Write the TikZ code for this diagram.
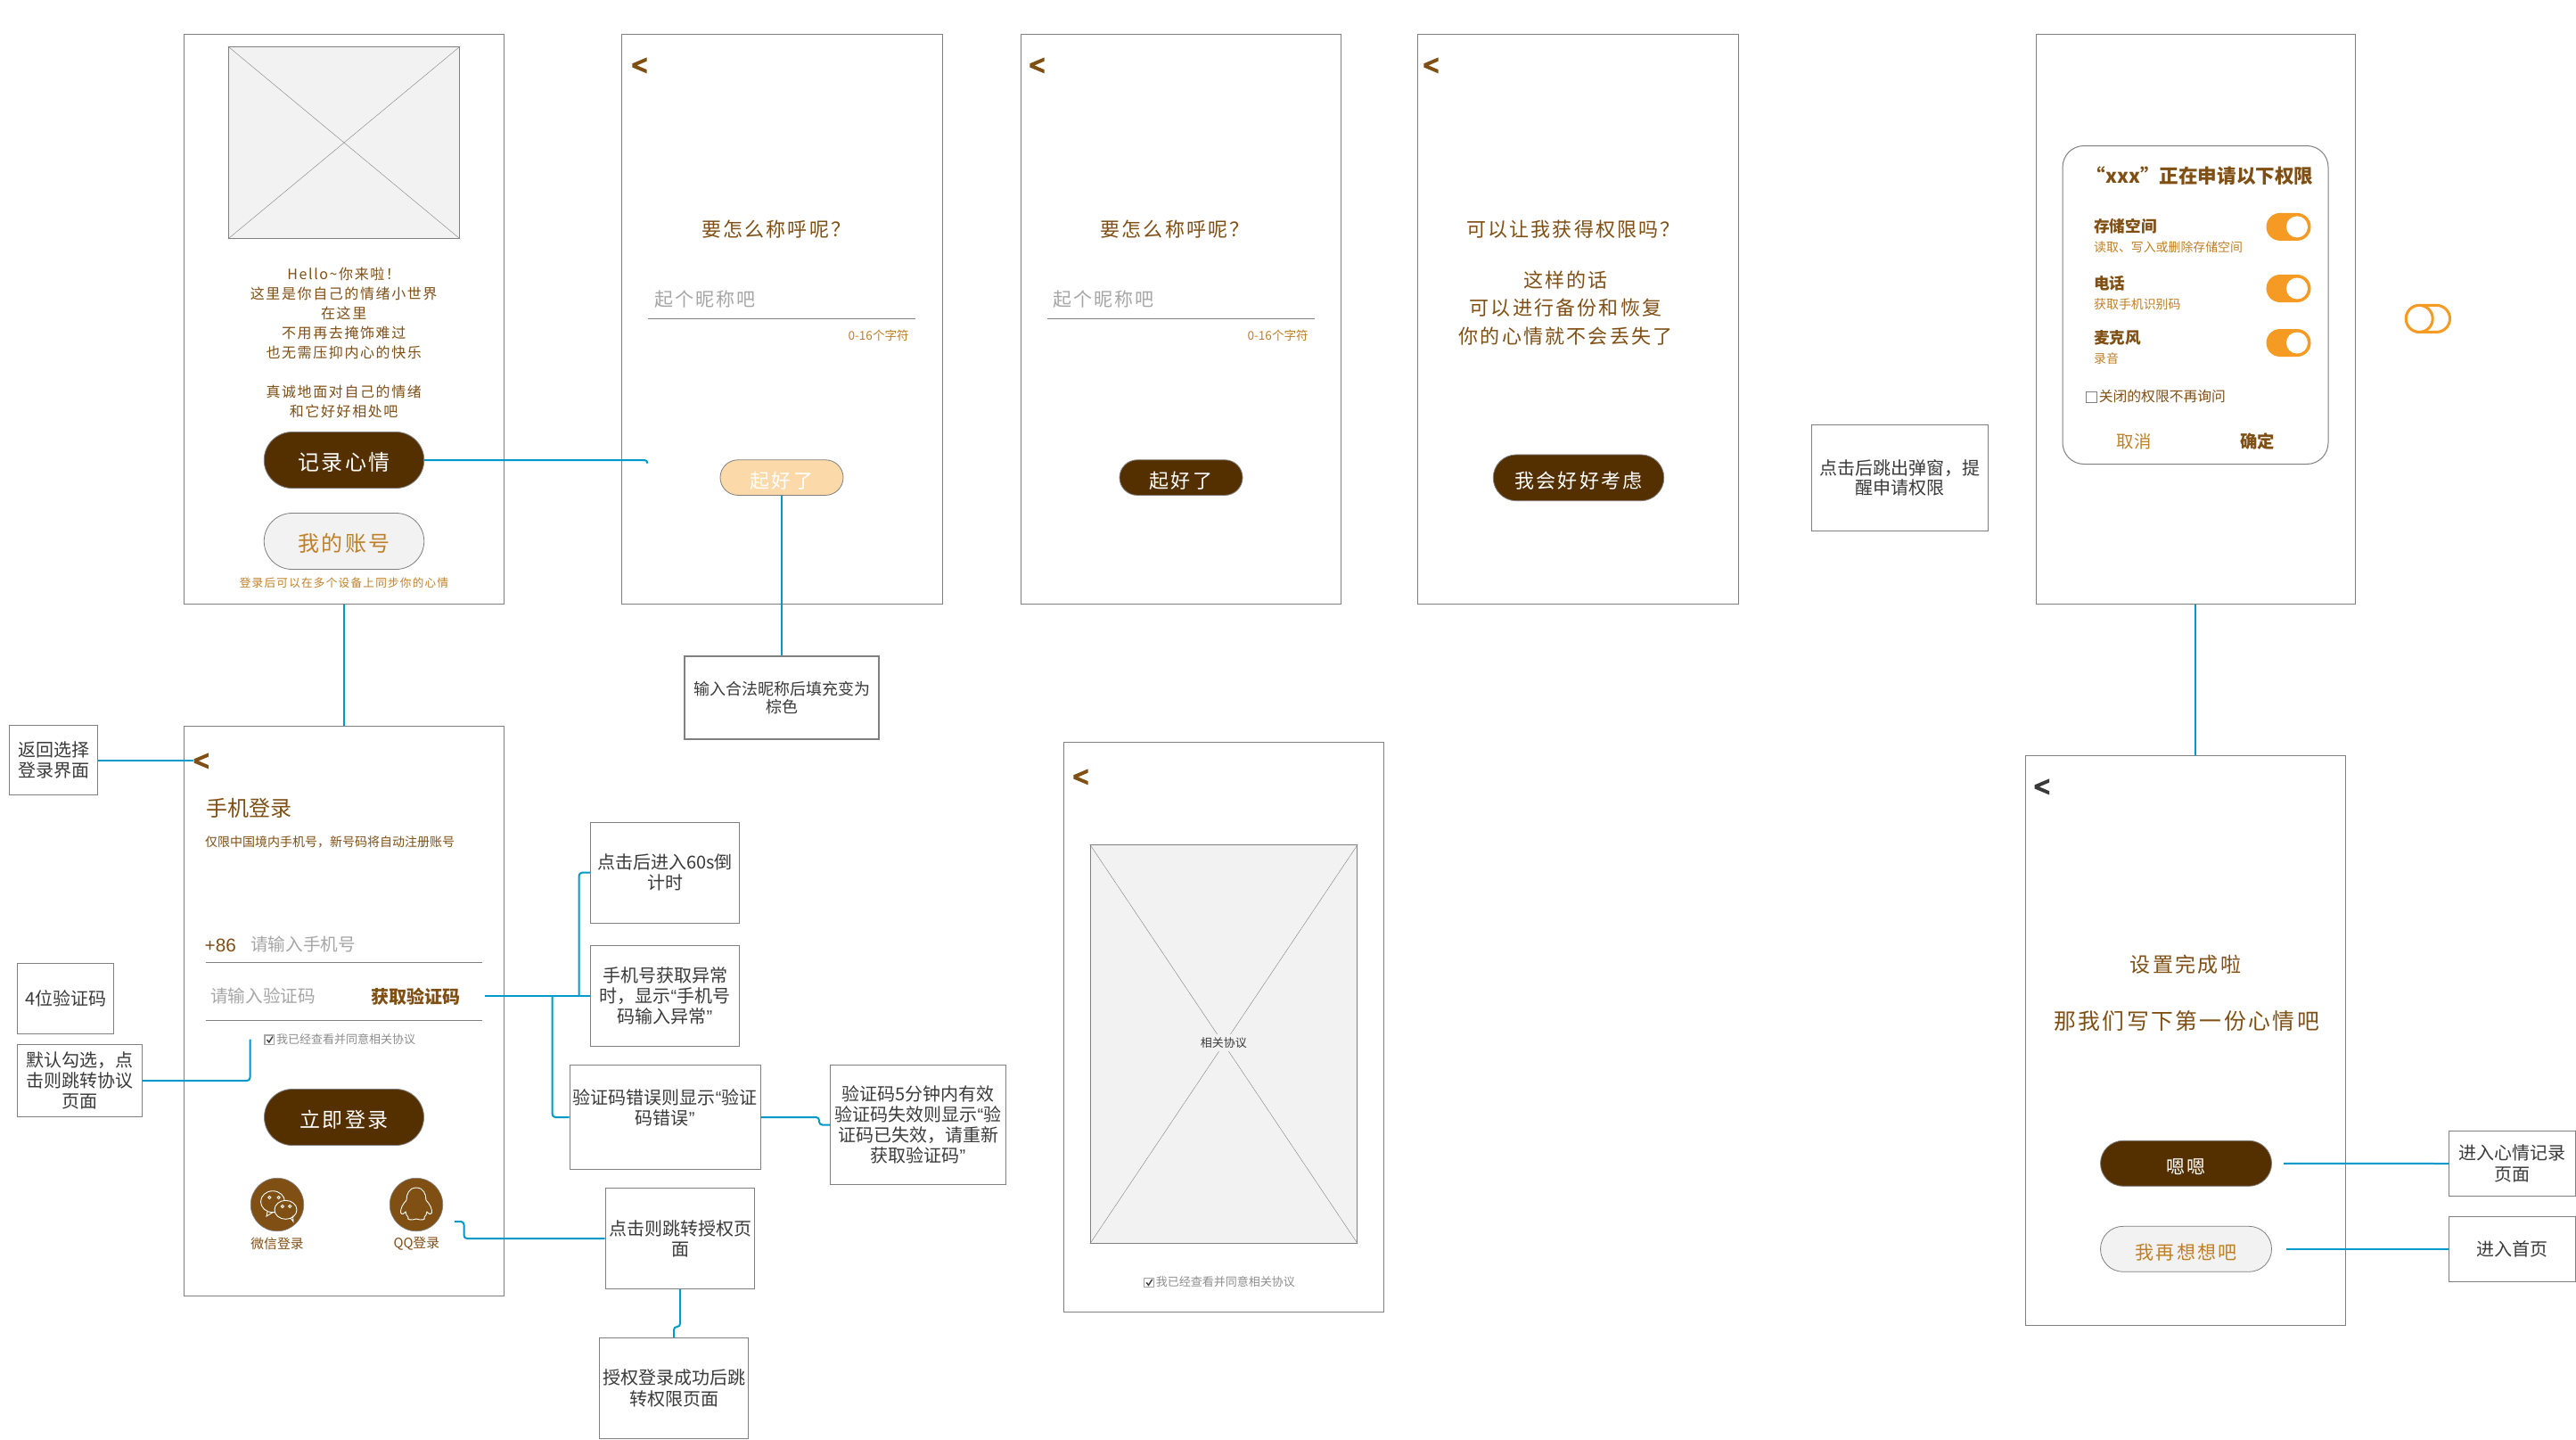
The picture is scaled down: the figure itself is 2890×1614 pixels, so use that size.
\documentclass[tikz,border=0pt]{standalone}
\usepackage{fontspec}
\usetikzlibrary{shapes.misc}
\setmainfont{Noto Sans CJK SC}
\newfontfamily\handfont[LetterSpace=10]{Noto Sans CJK SC}
\newfontfamily\latinfont{Liberation Sans}
\newfontfamily\chevfont[FakeBold=6]{Liberation Sans}
\newcommand{\fs}[2]{\fontsize{#1}{#2}\selectfont}
\newcommand{\qa}{{\latinfont “}}
\newcommand{\qb}{{\latinfont ”}}
\definecolor{bark}{HTML}{7F4F14}
\definecolor{cocoa}{HTML}{542F00}
\definecolor{amber}{HTML}{BF7F26}
\definecolor{peach}{HTML}{FCD9A9}
\definecolor{toggle}{HTML}{F59A23}
\definecolor{linegrey}{HTML}{7F7F7F}
\definecolor{hintgrey}{HTML}{A6A6A6}
\definecolor{paper}{HTML}{F2F2F2}
\definecolor{ink}{HTML}{3A3A3A}
\definecolor{wire}{HTML}{0099CC}
\tikzset{
    screen/.style={draw=linegrey, line width=1.2pt, fill=white, inner sep=0, minimum width=359.5pt, minimum height=639pt},
    note/.style 2 args={draw=linegrey, line width=1.2pt, fill=white, inner sep=0, align=center, text=ink, font=\fs{20}{23.2}, minimum width=#1pt, minimum height=#2pt},
    photo/.style 2 args={draw=linegrey, line width=1.2pt, fill=paper, inner sep=0, minimum width=#1pt, minimum height=#2pt},
    pill/.style 2 args={rounded rectangle, draw=linegrey, line width=.8pt, inner sep=0, text height=26pt, text depth=3pt, minimum width=#1pt, minimum height=#2pt},
    darkpill/.style={fill=cocoa, text=white},
    palepill/.style={fill=paper, text=amber},
    words/.style={inner sep=0, align=center, text=bark},
    chevron/.style={inner sep=0, yshift=-2pt, font=\chevfont\fs{30}{30}},
    tickbox/.style={draw=hintgrey, line width=1.4pt, fill=white, inner sep=0, minimum size=10.5pt},
    underline/.style={draw=linegrey, line width=1.2pt},
    link/.style={draw=wire, line width=2pt, rounded corners=3.5pt},
    slider/.style={rounded rectangle, fill=toggle, inner sep=0, minimum width=50pt, minimum height=31pt},
    knob/.style={circle, fill=white, inner sep=0, minimum size=24pt},
    iconline/.style={draw=white, line width=.9pt}
}
\begin{document}
\begin{tikzpicture}[x=1pt, y=-1pt]
    \useasboundingbox (0,0) rectangle (2890,1614);

    \foreach \name/\cx/\cy in {mainscreen/386/358, namescreen/877.4/358, readyscreen/1325/358, askscreen/1770.4/358, loginscreen/386/1134, agreescreen/1373/1152, donescreen/2452/1167}
        \node[screen] (\name) at (\cx,\cy) {};
    \node[screen, minimum width=358pt] (grantscreen) at (2463.3,358) {};

    \foreach \name/\cx/\cy/\tint in {backname/717.5/72.5/bark, backready/1163.5/72.5/bark, backask/1605.5/72.5/bark, backlogin/225.7/852.5/bark, backagree/1212.5/870.5/bark, backdone/2290.8/881.5/ink}
        \node[chevron, text=\tint] (\name) at (\cx,\cy) {<};

    \node[photo={259.5}{215}] (mainphoto) at (386,160) {};
    \draw[linegrey] (mainphoto.north west) -- (mainphoto.south east) (mainphoto.north east) -- (mainphoto.south west);
    \node[words, font=\handfont\fs{16}{21.9}] (hello) at (385.7,384.5) {Hello\textasciitilde 你来啦！\\这里是你自己的情绪小世界\\在这里\\不用再去掩饰难过\\也无需压抑内心的快乐\\[21.9pt]真诚地面对自己的情绪\\和它好好相处吧};
    \node[pill={179.5}{63}, darkpill, font=\handfont\fs{24}{24}] (recordbtn) at (386,516) {记录心情};
    \node[pill={179.5}{63}, palepill, font=\handfont\fs{24}{24}] (accountbtn) at (386,607) {我的账号};
    \node[words, text=amber, font=\handfont\fs{12.6}{14}] (synchint) at (386,653.5) {登录后可以在多个设备上同步你的心情};

    \foreach \name/\cx in {namea/870.7, nameb/1318}
        \node[words, font=\handfont\fs{22}{22}] (\name) at (\cx,257) {要怎么称呼呢？};
    \foreach \name/\cx in {fielda/733.9, fieldb/1181}
        \node[words, anchor=west, text=hintgrey, font=\handfont\fs{21}{21}] (\name) at (\cx,336) {起个昵称吧};
    \draw[underline] (727,357.5) -- (1027.4,357.5) (1175,357.5) -- (1475.4,357.5);
    \foreach \name/\cx in {counta/1020, countb/1468}
        \node[words, anchor=east, text=amber, font=\fs{13.6}{14}] (\name) at (\cx,376.5) {0-16个字符};
    \node[pill={138}{39.6}, fill=peach, text=white, font=\handfont\fs{22}{22}] (namepale) at (877,535.6) {起好了};
    \node[pill={138}{39.6}, darkpill, font=\handfont\fs{22}{22}] (namedark) at (1325,535.6) {起好了};

    \node[words, font=\handfont\fs{22}{22}] (asktitle) at (1765,257) {可以让我获得权限吗？};
    \node[words, font=\handfont\fs{22}{31.5}] (askbody) at (1756.5,345.5) {这样的话\\可以进行备份和恢复\\你的心情就不会丢失了};
    \node[pill={191.5}{51.7}, darkpill, font=\handfont\fs{22}{22}] (askbtn) at (1771,535.8) {我会好好考虑};

    \node[draw=linegrey, line width=1pt, rounded corners=24pt, inner sep=0, minimum width=298pt, minimum height=357pt] (permcard) at (2463,342) {};
    \node[words, font=\bfseries\fs{21.6}{22}] (permtitle) at (2468,197) {“xxx”正在申请以下权限};
    \foreach \name/\cy/\head/\sub in {store/254/存储空间/读取、写入或删除存储空间, phone/318/电话/获取手机识别码, mic/379/麦克风/录音} {
        \node[words, anchor=west, font=\bfseries\fs{17.6}{18}] (\name head) at (2349,\cy) {\head};
        \node[words, anchor=west, text=amber, font=\fs{13.9}{14}] (\name sub) at (2349,\cy+23) {\sub};
    }
    \foreach \cy [count=\i] in {254.4,323.5,384.5} {
        \node[slider] (slider\i) at (2567.5,\cy) {};
        \node[knob] (knob\i) at (2577,\cy) {};
    }
    \node[draw=linegrey, line width=.8pt, inner sep=0, minimum width=12pt, minimum height=12pt] (askbox) at (2346.6,445) {};
    \node[words, anchor=west, font=\fs{15.8}{16}] (asktext) at (2354.6,444.5) {关闭的权限不再询问};
    \node[words, text=amber, font=\fs{19.4}{20}] (cancel) at (2394.2,495.5) {取消};
    \node[words, font=\bfseries\fs{19.4}{20}] (confirm) at (2532.5,495.5) {确定};
    \node[rounded rectangle, draw=toggle, line width=3pt, inner sep=0, minimum width=49pt, minimum height=30pt] (offslider) at (2724,357.4) {};
    \node[circle, draw=toggle, line width=3pt, fill=white, inner sep=0, minimum size=30pt] (offknob) at (2714.2,357.4) {};

    \node[words, anchor=west, font=\fs{24}{24}] (logintitle) at (231.5,905.9) {手机登录};
    \node[words, anchor=west, font=\fs{14}{14}] (loginhint) at (230,944.5) {仅限中国境内手机号，新号码将自动注册账号};
    \node[words, anchor=west, font=\latinfont\fs{20.7}{21}] (areacode) at (229.5,1060.8) {+86};
    \node[words, anchor=west, text=hintgrey, font=\fs{19.6}{20}] (phonefield) at (281,1059) {请输入手机号};
    \draw[underline] (231,1079.2) -- (541,1079.2) (231,1144.3) -- (541,1144.3);
    \node[words, anchor=west, text=hintgrey, font=\fs{19.6}{20}] (codefield) at (236,1117) {请输入验证码};
    \node[words, anchor=west, font=\bfseries\fs{20}{20}] (getcode) at (416,1118) {获取验证码};
    \node[tickbox] (logincheck) at (302.3,1166.2) {};
    \draw[ink, line width=1.4pt] (299.5,1166) -- (301.8,1169) -- (306,1162.5);
    \node[words, anchor=west, text=hintgrey!85!black, font=\fs{13}{13}] (logincheckword) at (310,1165.5) {我已经查看并同意相关协议};
    \node[pill={179}{63}, darkpill, font=\handfont\fs{23}{23}] (loginbtn) at (386,1253) {立即登录};

    \node[circle, fill=bark, draw=linegrey, line width=.6pt, inner sep=0, minimum size=59.5pt] (wechatbtn) at (311,1351) {};
    \begin{scope}[shift={(wechatbtn.center)}]
        \draw[iconline] (-5,-3.3) ellipse [x radius=13.5, y radius=12];
        \draw[iconline] (-11,8) -- (-12,13) -- (-5,8.7);
        \draw[iconline, fill=bark] (9.5,5.8) ellipse [x radius=12.5, y radius=10.5];
        \draw[iconline] (15,15) -- (18,19) -- (17.5,12.5);
        \foreach \ex/\ey in {-8.7/-8, 1.7/-8, 5.9/1.9, 14.3/1.9}
            \draw[iconline] (\ex,\ey) circle [radius=1.6];
    \end{scope}
    \node[circle, fill=bark, draw=linegrey, line width=.6pt, inner sep=0, minimum size=59.5pt] (qqbtn) at (467,1351) {};
    \draw[iconline, shift={(qqbtn.center)}] (0,-19) .. controls (8,-19) and (11,-12) .. (11,-5) .. controls (15,-1) and (18,5) .. (17.5,9) .. controls (16,12) and (13,10) .. (12,8) .. controls (12,11) and (10,13) .. (9,14) .. controls (11,17) and (6,18) .. (0,16) .. controls (-6,18) and (-11,17) .. (-9,14) .. controls (-10,13) and (-12,11) .. (-12,8) .. controls (-13,10) and (-16,12) .. (-17.5,9) .. controls (-18,5) and (-15,-1) .. (-11,-5) .. controls (-11,-12) and (-8,-19) .. cycle;
    \node[words, font=\fs{14.8}{15}] (wechatword) at (311,1395) {微信登录};
    \node[words, font=\fs{14.8}{15}] (qqword) at (467.3,1395) {QQ登录};

    \node[photo={299.5}{447}] (agreephoto) at (1373,1171) {};
    \draw[linegrey] (agreephoto.north west) -- (agreephoto.south east) (agreephoto.north east) -- (agreephoto.south west);
    \node[fill=paper, inner sep=3pt, text=ink, font=\fs{13}{13}] (agreeword) at (1372.8,1169.5) {相关协议};
    \node[tickbox] (agreecheck) at (1289,1438.5) {};
    \draw[ink, line width=1.4pt] (1286.2,1438.3) -- (1288.5,1441.3) -- (1292.7,1434.8);
    \node[words, anchor=west, text=hintgrey!85!black, font=\fs{13}{13}] (agreecheckword) at (1296.7,1438) {我已经查看并同意相关协议};

    \node[words, font=\handfont\fs{23}{23}] (donea) at (2452,1082) {设置完成啦};
    \node[words, font=\handfont\fs{24.8}{25}] (doneb) at (2453,1145.5) {那我们写下第一份心情吧};
    \node[pill={192}{51}, darkpill, font=\handfont\fs{21}{21}] (okbtn) at (2452.5,1304.8) {嗯嗯};
    \node[pill={192}{51}, palepill, font=\handfont\fs{21}{21}] (laterbtn) at (2452.5,1400.8) {我再想想吧};

    \node[note={99}{78}] (backnote) at (60,852.5) {返回选择\\登录界面};
    \node[note={108}{79}] (codesizenote) at (73.6,1120) {4位验证码};
    \node[note={140}{81}] (checknote) at (89.5,1212) {默认勾选，点\\击则跳转协议\\页面};
    \node[note={167}{113}] (timernote) at (746,978.7) {点击后进入60s倒\\计时};
    \node[note={167}{113.4}] (abnormalnote) at (746,1117) {手机号获取异常\\时，显示\qa 手机号\\码输入异常\qb};
    \node[note={214}{117}] (wrongnote) at (746.2,1253) {验证码错误则显示\qa 验证\\码错误\qb\\~};
    \node[note={197}{134}] (expirenote) at (1030,1261.5) {验证码5分钟内有效\\验证码失效则显示\qa 验\\证码已失效，请重新\\获取验证码\qb};
    \node[note={167.5}{113}] (qqnote) at (763,1389) {点击则跳转授权页\\面};
    \node[note={167}{113}] (authnote) at (756,1557) {授权登录成功后跳\\转权限页面};
    \node[note={218}{93}, font=\fs{18}{20.6}] (fillnote) at (877,782.5) {输入合法昵称后填充变为\\棕色};
    \node[note={198}{119}, font=\fs{20}{22.3}] (popnote) at (2131.5,535.7) {点击后跳出弹窗，提\\醒申请权限};
    \node[note={142}{73}] (recordnote) at (2818.7,1305) {进入心情记录\\页面};
    \node[note={142}{73}] (homenote) at (2818.7,1400.8) {进入首页};

    \coordinate (nameend) at (726.4,519.6);
    \coordinate (checkend) at (280.5,1165.5);
    \coordinate (codeend) at (544.2,1117);
    \coordinate (timerfork) at (649.6,1117);
    \coordinate (wrongfork) at (619.6,1117);
    \coordinate (qqend) at (509.8,1370);
    \coordinate (okend) at (2562,1304.8);
    \coordinate (laterend) at (2564.5,1400.8);

    \draw[link] (recordbtn.east) -| (nameend);
    \draw[link] (mainscreen.south) -- (loginscreen.north);
    \draw[link] (backnote.east) -- (backlogin.west |- backnote.east);
    \draw[link] (checknote.east) -| (checkend);
    \draw[link] (codeend) -- (abnormalnote.west);
    \draw[link] (timerfork) |- (timernote.west);
    \draw[link] (wrongfork) |- (wrongnote.west);
    \draw[link] (wrongnote.east) -- (919,1253) -- (919,1261.5) -- (expirenote.west);
    \draw[link] (qqend) -| (520.5,1389) -- (qqnote.west);
    \draw[link] (qqnote.south) |- (756,1488) -- (authnote.north);
    \draw[link] (namepale.south) -- (fillnote.north);
    \draw[link] (grantscreen.south) -- (grantscreen.south |- donescreen.north);
    \draw[link] (okend) -- (recordnote.west);
    \draw[link] (laterend) -- (homenote.west);
\end{tikzpicture}
\end{document}
